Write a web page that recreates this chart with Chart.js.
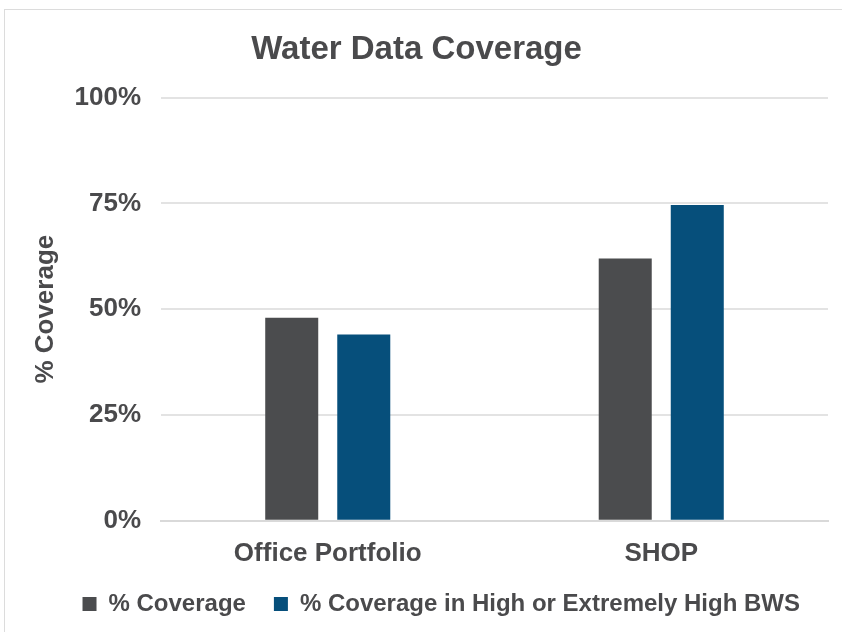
<!DOCTYPE html>
<html>
<head>
<meta charset="utf-8">
<script src="https://cdn.jsdelivr.net/npm/chart.js@4"></script>
<style>
  html, body { margin: 0; padding: 0; background: #fff; }
  #frame {
    position: absolute; left: 4px; top: 9px;
    width: 838px; height: 623px;
    border-left: 1px solid #dcdcdc; border-top: 1px solid #dcdcdc;
  }
  #coverageChart { display: block; }
</style>
</head>
<body>
<div id="frame"><canvas id="coverageChart" width="837" height="622"></canvas></div>
<script>
const categories = ["Office Portfolio", "SHOP"];
const coverage = [48, 62];
const coverageHighBws = [44, 74.6];
const yTicks = [0, 25, 50, 75, 100];

const textColor = "#4a4a4c";
const font = "'Liberation Sans', Arial, Helvetica, sans-serif";

const ctx = document.getElementById("coverageChart");

new Chart(ctx, {
  type: "bar",
  data: {
    labels: categories,
    datasets: [
      {
        label: "% Coverage",
        data: coverage,
        backgroundColor: "#4b4c4e",
        categoryPercentage: 0.432,
        barPercentage: 0.736
      },
      {
        label: "% Coverage in High or Extremely High BWS",
        data: coverageHighBws,
        backgroundColor: "#064f7b",
        categoryPercentage: 0.432,
        barPercentage: 0.736
      }
    ]
  },
  options: {
    responsive: false,
    animation: false,
    layout: { padding: { left: 0, right: 14, top: 0, bottom: 6 } },
    plugins: {
      title: {
        display: true,
        text: "Water Data Coverage",
        color: textColor,
        font: { family: font, size: 33, weight: "bold", lineHeight: 1.2 },
        padding: { top: 20, bottom: 28 }
      },
      legend: {
        position: "bottom",
        align: "end",
        labels: {
          color: textColor,
          font: { family: font, size: 24, weight: "bold" },
          boxWidth: 14,
          boxHeight: 14,
          padding: 28
        }
      },
      tooltip: { enabled: false }
    },
    scales: {
      x: {
        // labels overlap the legend's top padding, keeping the plot tall
        afterFit: axis => { axis.height -= 22; },
        grid: { display: false, drawTicks: false },
        border: { color: "#d9d9d9", width: 2 },
        ticks: {
          color: textColor,
          font: { family: font, size: 26, weight: "bold" },
          padding: 17
        }
      },
      y: {
        min: 0,
        max: 100,
        afterBuildTicks: axis => { axis.ticks = yTicks.map(v => ({ value: v })); },
        afterFit: axis => { axis.width = 156; },
        grid: { color: "#e3e3e3", lineWidth: 2, drawTicks: false },
        border: { display: false },
        ticks: {
          color: textColor,
          font: { family: font, size: 26, weight: "bold" },
          padding: 20,
          callback: v => v + "%"
        },
        title: {
          display: true,
          text: "% Coverage",
          color: textColor,
          font: { family: font, size: 26, weight: "bold" },
          padding: { top: 25, bottom: 0 }
        }
      }
    }
  }
});
</script>
</body>
</html>
